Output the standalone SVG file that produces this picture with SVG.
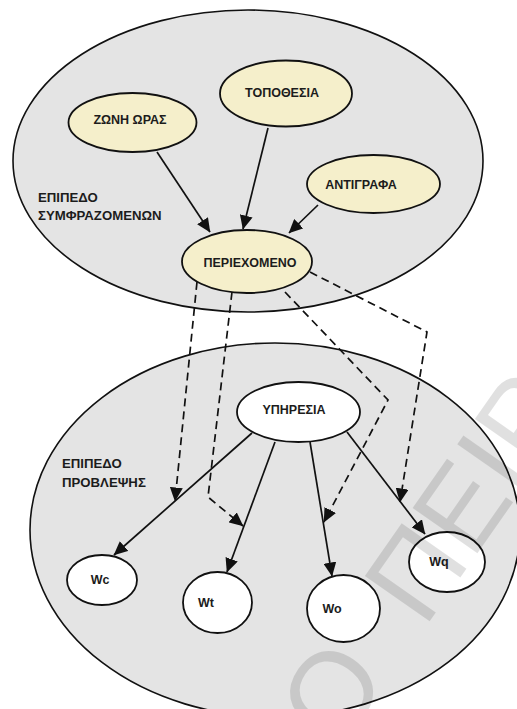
<svg xmlns="http://www.w3.org/2000/svg" width="517" height="709" viewBox="0 0 517 709">
  <defs>
    <style>
      .layer { fill: #e4e4e4; stroke: #111; stroke-width: 1.6; }
      .ctx { fill: #f5efcb; stroke: #111; stroke-width: 1.8; }
      .pred { fill: #ffffff; stroke: #111; stroke-width: 1.8; }
      .lbl { font-family: "Liberation Sans", Arial, sans-serif; font-weight: bold; font-size: 12.5px; fill: #1c1c1c; }
      .side { font-size: 13.2px; }
      .nt { text-anchor: middle; }
      .edge { fill: none; stroke: #111; stroke-width: 1.7; marker-end: url(#arrow); }
      .dash { stroke-dasharray: 8 5; }
      .mark { font-family: "Liberation Sans", Arial, sans-serif; font-size: 115px; fill: #000; fill-opacity: 0.12; }
    </style>
    <marker id="arrow" viewBox="0 0 14 13" markerWidth="14" markerHeight="13" markerUnits="userSpaceOnUse" refX="13.5" refY="6.5" orient="auto">
      <path d="M0,0 L14,6.5 L0,13 Z" fill="#111" stroke="none"/>
    </marker>
  </defs>

  <!-- context layer -->
  <g id="context-layer">
    <ellipse class="layer" cx="248" cy="161" rx="235" ry="151"/>
    <text class="lbl side" x="38" y="202">ΕΠΙΠΕΔΟ</text>
    <text class="lbl side" x="38" y="220">ΣΥΜΦΡΑΖΟΜΕΝΩΝ</text>
  </g>

  <!-- prediction layer -->
  <g id="prediction-layer">
    <ellipse class="layer" cx="275" cy="530" rx="245" ry="187"/>
    <text class="lbl side" x="62" y="468">ΕΠΙΠΕΔΟ</text>
    <text class="lbl side" x="62" y="487">ΠΡΟΒΛΕΨΗΣ</text>
  </g>

  <!-- connectors -->
  <g id="connectors">
    <path class="edge" d="M157,152 L210,232"/>
    <path class="edge" d="M268,128 L243,229"/>
    <path class="edge" d="M318,205 L289,233"/>
    <path class="edge" d="M252,433 L114,555"/>
    <path class="edge" d="M275,442 L227,572"/>
    <path class="edge" d="M310,442 L332,576"/>
    <path class="edge" d="M347,432 L425,534"/>
    <path class="edge dash" d="M197,282 L175,501"/>
    <path class="edge dash" d="M232,292 L208,497 L243,526"/>
    <path class="edge dash" d="M285,292 L388,400 L324,522"/>
    <path class="edge dash" d="M310,272 L427,332 L400,502"/>
  </g>

  <!-- context nodes -->
  <g id="timezone">
    <ellipse class="ctx" cx="132.5" cy="122.5" rx="64" ry="29.5"/>
    <text class="lbl nt" x="130" y="124">ΖΩΝΗ ΩΡΑΣ</text>
  </g>
  <g id="location">
    <ellipse class="ctx" cx="286" cy="93.5" rx="66" ry="33"/>
    <text class="lbl nt" x="282" y="97">ΤΟΠΟΘΕΣΙΑ</text>
  </g>
  <g id="replicas">
    <ellipse class="ctx" cx="373.5" cy="184" rx="66.5" ry="29"/>
    <text class="lbl nt" x="361" y="189">ΑΝΤΙΓΡΑΦΑ</text>
  </g>
  <g id="context">
    <ellipse class="ctx" cx="247" cy="261.5" rx="65" ry="31.5"/>
    <text class="lbl nt" x="250" y="267">ΠΕΡΙΕΧΟΜΕΝΟ</text>
  </g>

  <!-- prediction nodes -->
  <g id="service">
    <ellipse class="pred" cx="298.5" cy="412" rx="61.5" ry="30"/>
    <text class="lbl nt" x="294" y="414">ΥΠΗΡΕΣΙΑ</text>
  </g>
  <g id="wc">
    <ellipse class="pred" cx="102" cy="580" rx="35" ry="25"/>
    <text class="lbl nt" x="100" y="584">Wc</text>
  </g>
  <g id="wt">
    <ellipse class="pred" cx="217.5" cy="602.5" rx="34.5" ry="30.5"/>
    <text class="lbl nt" x="206" y="607">Wt</text>
  </g>
  <g id="wo">
    <ellipse class="pred" cx="343.5" cy="608.5" rx="36.5" ry="33.5"/>
    <text class="lbl nt" x="332" y="613">Wo</text>
  </g>
  <g id="wq">
    <ellipse class="pred" cx="447" cy="562" rx="38" ry="30"/>
    <text class="lbl nt" x="439" y="566">Wq</text>
  </g>

  <!-- faint diagonal watermark -->
  <g id="watermark">
    <text class="mark" transform="translate(338.5,751.4) rotate(-55)">Ο</text>
    <text class="mark" transform="translate(424.3,629.1) rotate(-55)">ΠΕΙΡ</text>
  </g>
</svg>
